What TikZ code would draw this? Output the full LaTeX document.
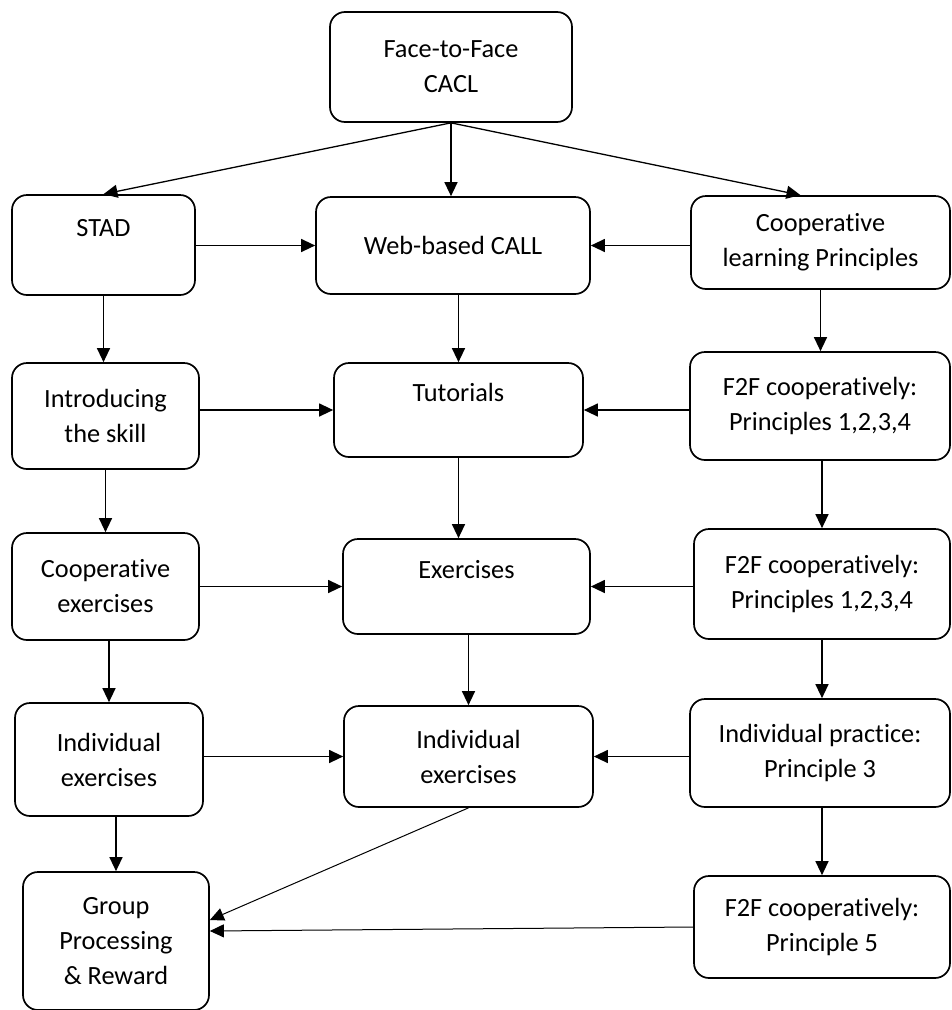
\documentclass[tikz,border=0pt]{standalone}
\usepackage{fontspec}
\setmainfont{Carlito}[Ligatures=NoCommon]
\usetikzlibrary{arrows.meta}

\begin{document}
\begin{tikzpicture}[x=1pt,y=-1pt,>={Triangle[length=14pt,width=13pt]},
 every node/.style={font=\fontsize{26.3}{35}\selectfont},
 bx/.style={draw,rounded corners=15pt,line width=1.7pt,align=center,inner sep=0pt},
 lnk/.style={->,line width=1.3pt},
 thin lnk/.style={->,line width=1pt}]
 \useasboundingbox (0,0) rectangle (952,1010);
 \node[bx,minimum width=242pt,minimum height=110pt] (cacl) at (451,67) {Face-to-Face\\CACL};
 \node[bx,minimum width=183pt,minimum height=100pt] (stad) at (103.5,245) {STAD\\\mbox{}};
 \node[bx,minimum width=274pt,minimum height=97pt] (web) at (453,245.5) {Web-based CALL};
 \node[bx,minimum width=259pt,minimum height=93pt] (clp) at (820.5,242.5) {Cooperative\\learning Principles};
 \node[bx,minimum width=187pt,minimum height=106pt] (intro) at (105.5,416) {Introducing\\the skill};
 \node[bx,minimum width=249pt,minimum height=94pt] (tut) at (458.5,410) {Tutorials\\\mbox{}};
 \node[bx,minimum width=260pt,minimum height=108pt] (fa) at (820,406) {F2F cooperatively:\\Principles 1,2,3,4};
 \node[bx,minimum width=187pt,minimum height=107pt] (cex) at (105.5,586.5) {Cooperative\\exercises};
 \node[bx,minimum width=247pt,minimum height=95pt] (ex) at (466.5,586.5) {Exercises\\\mbox{}};
 \node[bx,minimum width=256pt,minimum height=110pt] (fb) at (822,584) {F2F cooperatively:\\Principles 1,2,3,4};
 \node[bx,minimum width=188pt,minimum height=113pt] (iexl) at (109,759.5) {Individual\\exercises};
 \node[bx,minimum width=249pt,minimum height=101pt] (iexc) at (468.5,756.5) {Individual\\exercises};
 \node[bx,minimum width=260pt,minimum height=108pt] (ipr) at (820,753) {Individual practice:\\Principle 3};
 \node[bx,minimum width=186pt,minimum height=138pt] (grp) at (116,941) {Group\\Processing\\\& Reward};
 \node[bx,minimum width=256pt,minimum height=102pt] (fc) at (822,927) {F2F cooperatively:\\Principle 5};
 \draw[lnk] (cacl.south) -- (stad.north);
 \draw[lnk] (cacl.south) -- (cacl.south |- web.north);
 \draw[lnk] (cacl.south) -- ([xshift=-20pt]clp.north);
 \draw[lnk] (stad.east |- web.west) -- (web.west);
 \draw[lnk] (clp.west |- web.east) -- (web.east);
 \draw[lnk] (intro.east |- tut.west) -- (tut.west);
 \draw[lnk] (fa.west |- tut.east) -- (tut.east);
 \draw[lnk] (cex.east |- ex.west) -- (ex.west);
 \draw[lnk] (fb.west |- ex.east) -- (ex.east);
 \draw[lnk] (iexl.east |- iexc.west) -- (iexc.west);
 \draw[lnk] (ipr.west |- iexc.east) -- (iexc.east);
 \draw[lnk] (stad.south) -- (stad.south |- intro.north);
 \draw[lnk] (web.south -| tut.north) -- (tut.north);
 \draw[lnk] (clp.south) -- (clp.south |- fa.north);
 \draw[lnk] (intro.south) -- (intro.south |- cex.north);
 \draw[lnk] (tut.south) -- (tut.south |- ex.north);
 \draw[lnk] (fa.south -| fb.north) -- (fb.north);
 \draw[lnk] (cex.south -| iexl.north) -- (iexl.north);
 \draw[lnk] (ex.south -| iexc.north) -- (iexc.north);
 \draw[lnk] (fb.south) -- (fb.south |- ipr.north);
 \draw[lnk] (iexl.south -| grp.north) -- (grp.north);
 \draw[lnk] (ipr.south -| fc.north) -- (fc.north);
 \draw[thin lnk] (iexc.south) -- ([yshift=21pt]grp.east);
 \draw[thin lnk] (fc.west) -- ([yshift=10pt]grp.east);
\end{tikzpicture}
\end{document}
